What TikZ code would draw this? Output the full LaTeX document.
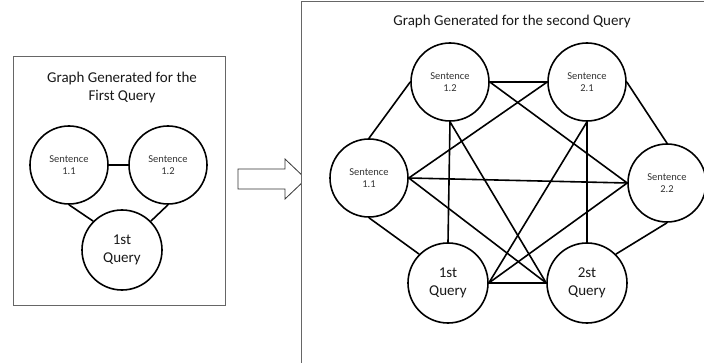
\documentclass[tikz,border=0pt]{standalone}
\usepackage{fontspec}
\setmainfont{Carlito}
\begin{document}
\begin{tikzpicture}[x=1pt,y=-1pt,
  sent/.style={circle, draw=black, line width=1.6pt, minimum size=78pt, inner sep=0pt, align=center, fill=white,
    font=\fontsize{10.5}{12}\selectfont, text=black!80},
  qry/.style={circle, draw=black, line width=1.6pt, minimum size=80pt, inner sep=0pt, align=center, fill=white,
    font=\fontsize{15}{18}\selectfont, text=black!90},
  edge/.style={line width=1.6pt, black},
  boxline/.style={draw=black!60, line width=0.9pt},
  ttl/.style={align=center, font=\fontsize{15}{18.5}\selectfont, text=black!90}]
\useasboundingbox (0,0) rectangle (704,363);
\fill[white] (0,0) rectangle (704,363);
% left box
\node[boxline, minimum width=212pt, minimum height=249pt, inner sep=0pt] (lbox) at (119,180.5) {};
\node[ttl] (ltitle) at (122,87.5) {Graph Generated for the\\First Query};
\node[sent] (l11) at (69,165) {Sentence\\1.1};
\node[sent] (l12) at (168,165) {Sentence\\1.2};
\node[qry] (lq) at (122,250) {1st\\Query};
\draw[edge] (l11.east) -- (l12.west);
\draw[edge] (l11.south) -- (lq.135);
\draw[edge] (l12.south) -- (lq.45);
% block arrow
\draw[line width=0.8pt, draw=black!80, fill=white] (238,169) -- (285,169) -- (285,159) -- (306,179) -- (285,199) -- (285,189) -- (238,189) -- cycle;
% right box (extends beyond the picture)
\fill[white] (301.5,1) rectangle (704,363);
\coordinate (rtr) at (704,1);
\coordinate (rtl) at (301.5,1);
\coordinate (rbl) at (301.5,363);
\draw[boxline] (rtr) -- (rtl) -- (rbl);
\node[ttl] (rtitle) at (512,22) {Graph Generated for the second Query};
\node[sent] (s12) at (450,82) {Sentence\\1.2};
\node[sent] (s21) at (587,82) {Sentence\\2.1};
\node[sent] (s11) at (369,178) {Sentence\\1.1};
\node[sent] (s22) at (667,183) {Sentence\\2.2};
\node[qry] (q1) at (448,283) {1st\\Query};
\node[qry] (q2) at (587,283) {2st\\Query};
\draw[edge] (s11.north) -- (s12.west);
\draw[edge] (s12.east) -- (s21.west);
\draw[edge] (s12.east) -- (s22.west);
\draw[edge] (s21.west) -- (s11.east);
\draw[edge] (s11.east) -- (s22.west);
\draw[edge] (s12.south) -- (q1.north);
\draw[edge] (s12.south) -- (q2.west);
\draw[edge] (s21.south) -- (q2.north);
\draw[edge] (s21.south) -- (q1.east);
\draw[edge] (s21.east) -- (s22.north);
\draw[edge] (s11.east) -- (q2.west);
\draw[edge] (s22.west) -- (q1.east);
\draw[edge] (q1.east) -- (q2.west);
\draw[edge] (s11.south) -- (q1.135);
\draw[edge] (s22.south) -- (q2.45);
\end{tikzpicture}
\end{document}
